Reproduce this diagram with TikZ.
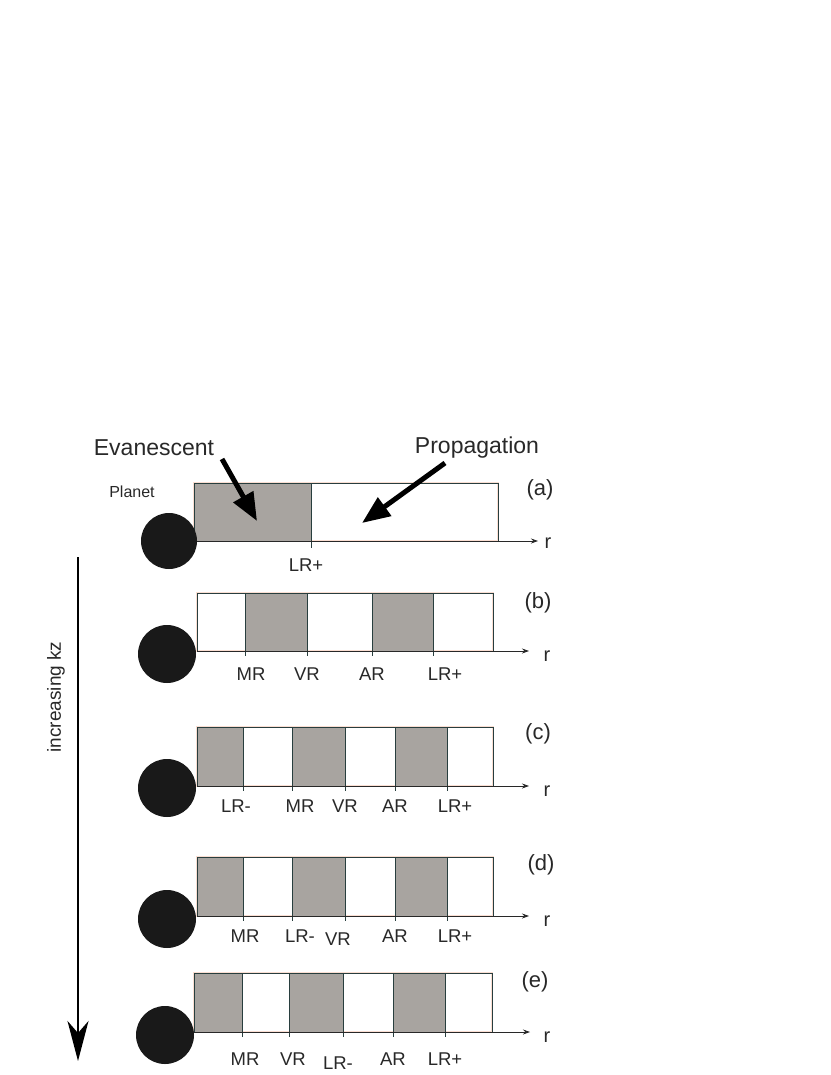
\documentclass[tikz,border=0pt]{standalone}
\usepackage{fontspec}
\setmainfont{Liberation Sans}
\usetikzlibrary{arrows.meta}
\definecolor{evgray}{RGB}{168,164,160}
\definecolor{edgecol}{RGB}{40,62,62}
\definecolor{halo}{RGB}{250,222,210}
\definecolor{txtcol}{RGB}{40,40,40}
\begin{document}
\begin{tikzpicture}[x=1pt,y=-1pt,
  lbl/.style={font=\fontsize{18.5}{18.5}\selectfont, text=txtcol, inner sep=0pt},
  kzlbl/.style={font=\fontsize{19}{19}\selectfont, text=txtcol, inner sep=0pt},
  tag/.style={font=\fontsize{22}{22}\selectfont, text=txtcol, inner sep=0pt},
  big/.style={font=\fontsize{23}{23}\selectfont, text=txtcol, inner sep=0pt},
  small/.style={font=\fontsize{16}{16}\selectfont, text=txtcol, inner sep=0pt},
  rlbl/.style={font=\fontsize{20}{20}\selectfont, text=txtcol, inner sep=0pt},
  halobox/.style={draw=halo, line width=2.2pt},
  boxline/.style={draw=edgecol, line width=0.9pt},
  divline/.style={draw=edgecol, line width=0.9pt},
  axisline/.style={draw=txtcol, line width=0.8pt, -{Stealth[length=7pt,width=5pt]}},
  planet/.style={fill=black!90},
  fatarrow/.style={draw=black, line width=5pt, -{Triangle[length=28pt,width=22pt]}}
]
\useasboundingbox (0,0) rectangle (830,1075);

% ---------- panel (a)
\draw[halobox] (194,483) rectangle (498,541);
\fill[evgray] (194,483) rectangle (311,541);
\draw[boxline] (194,483) rectangle (498,541);
\draw[divline] (311,483) -- (311,548);
\coordinate (a0) at (194,541);
\coordinate (a1) at (538,541);
\draw[axisline] (a0) -- (a1);
\node[rlbl] (ar) at (548,543) {r};
\node[lbl] (alr) at (306,565) {LR+};
\node[tag] (atag) at (540,490) {(a)};
\fill[planet] (169,541) circle (28pt);
\node[small] (planet) at (132,492) {Planet};
\node[big] (evan) at (154,448) {Evanescent};
\node[big] (prop) at (477,448) {Propagation};
\coordinate (evtip) at (257,521);
\coordinate (evtail) at (222,459);
\coordinate (prtip) at (362,523);
\coordinate (prtail) at (445,463);
\draw[fatarrow] (evtail) -- (evtip);
\draw[fatarrow] (prtail) -- (prtip);

% ---------- panel (b)
\draw[halobox] (197,593) rectangle (493,651);
\fill[evgray] (245,593) rectangle (307,651);
\fill[evgray] (372,593) rectangle (433,651);
\draw[boxline] (197,593) rectangle (493,651);
\foreach \x in {245,307,372,433} \draw[divline] (\x,593) -- (\x,656);
\coordinate (b0) at (197,651);
\coordinate (b1) at (529,651);
\draw[axisline] (b0) -- (b1);
\node[rlbl] (br) at (547,656) {r};
\node[tag] (btag) at (538,603) {(b)};
\fill[planet] (167,654) circle (29pt);
\node[lbl] (bmr) at (251,674) {MR};
\node[lbl] (bvr) at (307,674) {VR};
\node[lbl] (bar) at (372,674) {AR};
\node[lbl] (blr) at (445,674) {LR+};

% ---------- panel (c)
\draw[halobox] (197,727) rectangle (493,786);
\fill[evgray] (197,727) rectangle (243,786);
\fill[evgray] (292,727) rectangle (345,786);
\fill[evgray] (395,727) rectangle (447,786);
\draw[boxline] (197,727) rectangle (493,786);
\foreach \x in {243,292,345,395,447} \draw[divline] (\x,727) -- (\x,791);
\coordinate (c0) at (197,786);
\coordinate (c1) at (529,786);
\draw[axisline] (c0) -- (c1);
\node[rlbl] (cr) at (547,791) {r};
\node[tag] (ctag) at (538,734) {(c)};
\fill[planet] (167,788) circle (29pt);
\node[lbl] (clrm) at (236,806) {LR-};
\node[lbl] (cmr) at (300,806) {MR};
\node[lbl] (cvr) at (345,806) {VR};
\node[lbl] (car) at (395,806) {AR};
\node[lbl] (clr) at (455,806) {LR+};

% ---------- panel (d)
\draw[halobox] (197,857) rectangle (493,916);
\fill[evgray] (197,857) rectangle (243,916);
\fill[evgray] (292,857) rectangle (345,916);
\fill[evgray] (395,857) rectangle (447,916);
\draw[boxline] (197,857) rectangle (493,916);
\foreach \x in {243,292,345,395,447} \draw[divline] (\x,857) -- (\x,921);
\coordinate (d0) at (197,916);
\coordinate (d1) at (529,916);
\draw[axisline] (d0) -- (d1);
\node[rlbl] (dr) at (547,921) {r};
\node[tag] (dtag) at (541,865) {(d)};
\fill[planet] (167,919) circle (29pt);
\node[lbl] (dmr) at (245,936) {MR};
\node[lbl] (dlrm) at (300,936) {LR-};
\node[lbl] (dvr) at (338,939) {VR};
\node[lbl] (dar) at (395,936) {AR};
\node[lbl] (dlr) at (455,936) {LR+};

% ---------- panel (e)
\draw[halobox] (194,973) rectangle (492,1032);
\fill[evgray] (194,973) rectangle (242,1032);
\fill[evgray] (289,973) rectangle (343,1032);
\fill[evgray] (393,973) rectangle (445,1032);
\draw[boxline] (194,973) rectangle (492,1032);
\foreach \x in {242,289,343,393,445} \draw[divline] (\x,973) -- (\x,1037);
\coordinate (e0) at (194,1032);
\coordinate (e1) at (530,1032);
\draw[axisline] (e0) -- (e1);
\node[rlbl] (er) at (547,1037) {r};
\node[tag] (etag) at (535,982) {(e)};
\fill[planet] (165,1035) circle (29pt);
\node[lbl] (emr) at (245,1059) {MR};
\node[lbl] (evr) at (293,1059) {VR};
\node[lbl] (elrm) at (338,1063) {LR-};
\node[lbl] (ear) at (393,1059) {AR};
\node[lbl] (elr) at (445,1059) {LR+};

% ---------- increasing kz arrow
\coordinate (kz0) at (78,557);
\coordinate (kz1) at (78,1061);
\draw[line width=2.2pt, -{Stealth[length=40pt,width=21pt,inset=12pt]}] (kz0) -- (kz1);
\node[kzlbl, rotate=90] (kz) at (56,697) {increasing kz};
\end{tikzpicture}
\end{document}
